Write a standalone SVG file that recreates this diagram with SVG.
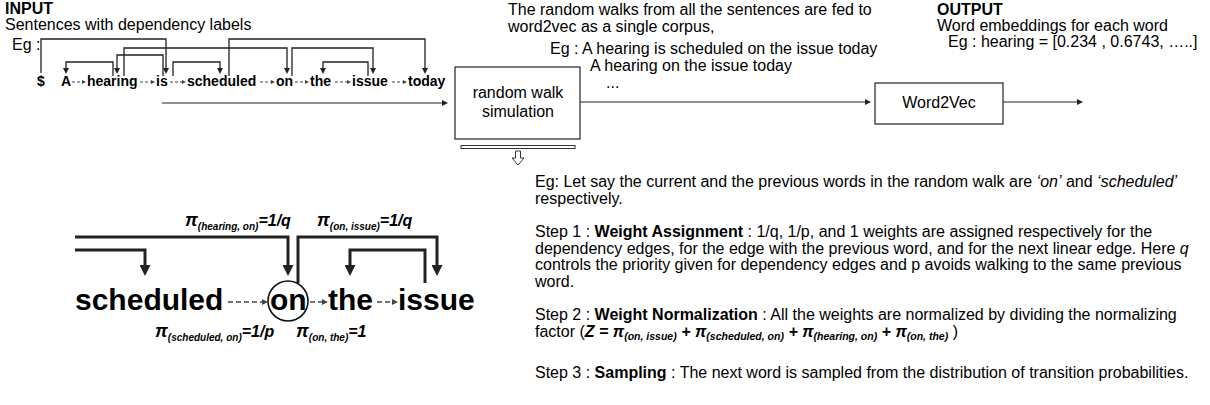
<svg xmlns="http://www.w3.org/2000/svg" width="1210" height="405" viewBox="0 0 1210 405">
<defs>
<style>
text{font-family:"Liberation Sans",Arial,sans-serif;fill:#000}
.t16{font-size:16px}
.b{font-weight:bold}
.w{font-size:14px;font-weight:bold}
.big{font-size:30px;font-weight:bold}
.arc{fill:none;stroke:#222;stroke-width:1.3}
.dash{fill:none;stroke:#444;stroke-width:1;stroke-dasharray:3 2}
.conn{fill:none;stroke:#222;stroke-width:1.2}
.thick{fill:none;stroke:#222;stroke-width:3}
.dashb{fill:none;stroke:#444;stroke-width:1.6;stroke-dasharray:5 3}
.box{fill:#fff;stroke:#222;stroke-width:1.2}
.pi{font-weight:bold;font-style:italic}
</style>
<marker id="a1" viewBox="0 0 10 10" refX="0" refY="5" markerWidth="7" markerHeight="6" orient="auto" markerUnits="userSpaceOnUse"><path d="M0,0L10,5L0,10z" fill="#222"/></marker>
<marker id="a2" viewBox="0 0 10 10" refX="0" refY="5" markerWidth="8" markerHeight="6" orient="auto" markerUnits="userSpaceOnUse"><path d="M0,0L10,5L0,10z" fill="#222"/></marker>
<marker id="as" viewBox="0 0 10 10" refX="0" refY="5" markerWidth="4" markerHeight="4" orient="auto" markerUnits="userSpaceOnUse"><path d="M0,0L10,5L0,10z" fill="#444"/></marker>
<marker id="asb" viewBox="0 0 10 10" refX="0" refY="5" markerWidth="6" markerHeight="6" orient="auto" markerUnits="userSpaceOnUse"><path d="M0,0L10,5L0,10z" fill="#444"/></marker>
<marker id="a3" viewBox="0 0 10 10" refX="0" refY="5" markerWidth="13" markerHeight="11" orient="auto" markerUnits="userSpaceOnUse"><path d="M0,0L10,5L0,10z" fill="#222"/></marker>
</defs>

<g id="input">
<text x="5" y="14" class="t16 b">INPUT</text>
<text x="5" y="30" class="t16">Sentences with dependency labels</text>
<text x="12" y="50" class="t16">Eg :</text>
</g>

<g id="sentence">
<text x="37" y="86" class="w">$</text>
<text x="61" y="86" class="w">A</text>
<text x="87" y="86" class="w">hearing</text>
<text x="156" y="86" class="w">is</text>
<text x="187" y="86" class="w">scheduled</text>
<text x="276" y="86" class="w">on</text>
<text x="310" y="86" class="w">the</text>
<text x="352" y="86" class="w">issue</text>
<text x="408" y="86" class="w">today</text>
</g>

<g id="random-walk">
<rect x="455" y="67" width="125" height="72" class="box"/>
<text x="518" y="98" class="t16" text-anchor="middle">random walk</text>
<text x="518" y="117" class="t16" text-anchor="middle">simulation</text>
</g>

<g id="corpus-text">
<text x="508" y="15" class="t16">The random walks from all the sentences are fed to</text>
<text x="508" y="32" class="t16">word2vec as a single corpus,</text>
<text x="550" y="54" class="t16">Eg : A hearing is scheduled on the issue today</text>
<text x="590" y="71" class="t16">A hearing on the issue today</text>
<text x="606" y="88" class="t16">...</text>
</g>

<g id="word2vec">
<rect x="875" y="83" width="128" height="41" class="box"/>
<text x="939" y="108" class="t16" text-anchor="middle">Word2Vec</text>
</g>

<g id="output">
<text x="937" y="15" class="t16 b">OUTPUT</text>
<text x="937" y="31" class="t16">Word embeddings for each word</text>
<text x="948" y="47" class="t16">Eg : hearing = [0.234 , 0.6743, …..]</text>
</g>

<g id="expand-arrow">
<rect x="461" y="145.5" width="114" height="3" fill="#fff" stroke="#333" stroke-width="1"/>
<path d="M515.5,151 H520.5 V158 H524 L518,165 L512,158 H515.5 Z" fill="#fff" stroke="#333" stroke-width="1"/>
</g>

<g id="connectors">
<path class="arc" d="M41,73 V39 H166 V68" marker-end="url(#a1)"/>
<path class="arc" d="M113,76 V62 H66 V68" marker-end="url(#a1)"/>
<path class="arc" d="M163,76 V55 H117 V68" marker-end="url(#a1)"/>
<path class="arc" d="M124,76 V48 H287 V68" marker-end="url(#a1)"/>
<path class="arc" d="M173,76 V62 H220 V68" marker-end="url(#a1)"/>
<path class="arc" d="M229,76 V39 H425 V68" marker-end="url(#a1)"/>
<path class="arc" d="M292,76 V48 H373 V68" marker-end="url(#a1)"/>
<path class="arc" d="M368,76 V62 H323 V68" marker-end="url(#a1)"/>
<path class="dash" d="M72,82 H82" marker-end="url(#as)"/>
<path class="dash" d="M140,82 H151" marker-end="url(#as)"/>
<path class="dash" d="M170,82 H182" marker-end="url(#as)"/>
<path class="dash" d="M260,82 H271" marker-end="url(#as)"/>
<path class="dash" d="M295,82 H305" marker-end="url(#as)"/>
<path class="dash" d="M335,82 H347" marker-end="url(#as)"/>
<path class="dash" d="M392,82 H403" marker-end="url(#as)"/>
<path class="conn" d="M162,103 H442" marker-end="url(#a2)"/>
<path class="conn" d="M580,102 H865" marker-end="url(#a2)"/>
<path class="conn" d="M1003,102 H1077" marker-end="url(#a2)"/>
</g>

<g id="detail-figure">
<text x="185" y="226" class="pi"><tspan font-size="18">π</tspan><tspan font-size="10" dy="4">(hearing, on)</tspan><tspan font-size="16" dy="-4">=1/q</tspan></text>
<text x="317" y="226" class="pi"><tspan font-size="18">π</tspan><tspan font-size="10" dy="4">(on, issue)</tspan><tspan font-size="16" dy="-4">=1/q</tspan></text>
<text x="75" y="310" class="big">scheduled</text>
<text x="270" y="310" class="big">on</text>
<text x="328" y="310" class="big">the</text>
<text x="398" y="310" class="big">issue</text>
<circle cx="288" cy="301" r="20" fill="none" stroke="#111" stroke-width="1.6"/>
<text x="155" y="337" class="pi"><tspan font-size="18">π</tspan><tspan font-size="10" dy="4">(scheduled, on)</tspan><tspan font-size="16" dy="-4">=1/p</tspan></text>
<text x="296" y="337" class="pi"><tspan font-size="18">π</tspan><tspan font-size="10" dy="4">(on, the)</tspan><tspan font-size="16" dy="-4">=1</tspan></text>
</g>

<g id="detail-connectors">
<path class="thick" d="M75,237 H288 V265" marker-end="url(#a3)"/>
<path class="thick" d="M75,250 H145 V265" marker-end="url(#a3)"/>
<path class="thick" d="M298,283 V237 H437 V265" marker-end="url(#a3)"/>
<path class="thick" d="M425,283 V250 H350 V265" marker-end="url(#a3)"/>
<path class="dashb" d="M228,302 H262" marker-end="url(#asb)"/>
<path class="dashb" d="M310,302 H322" marker-end="url(#asb)"/>
<path class="dashb" d="M377,302 H392" marker-end="url(#asb)"/>
</g>

<g id="explanation">
<text x="535" y="187" class="t16">Eg: Let say the current and the previous words in the random walk are <tspan font-style="italic">‘on’</tspan> and <tspan font-style="italic">‘scheduled’</tspan></text>
<text x="535" y="203.5" class="t16">respectively.</text>
<text x="535" y="237" class="t16">Step 1 : <tspan font-weight="bold">Weight Assignment</tspan> : 1/q, 1/p, and 1 weights are assigned respectively for the</text>
<text x="535" y="253.5" class="t16">dependency edges, for the edge with the previous word, and for the next linear edge. Here <tspan font-style="italic">q</tspan></text>
<text x="535" y="270" class="t16">controls the priority given for dependency edges and p avoids walking to the same previous</text>
<text x="535" y="286.5" class="t16">word.</text>
<text x="535" y="320" class="t16">Step 2 : <tspan font-weight="bold">Weight Normalization</tspan> : All the weights are normalized by dividing the normalizing</text>
<text x="535" y="336.5" class="t16">factor (<tspan class="pi">Z = π</tspan><tspan class="pi" font-size="10.5" dy="3">(on, issue)</tspan><tspan class="pi" dy="-3"> + π</tspan><tspan class="pi" font-size="10.5" dy="3">(scheduled, on)</tspan><tspan class="pi" dy="-3"> + π</tspan><tspan class="pi" font-size="10.5" dy="3">(hearing, on)</tspan><tspan class="pi" dy="-3"> + π</tspan><tspan class="pi" font-size="10.5" dy="3">(on, the)</tspan><tspan dy="-3"> )</tspan></text>
<text x="535" y="378" class="t16">Step 3 : <tspan font-weight="bold">Sampling</tspan> : The next word is sampled from the distribution of transition probabilities.</text>
</g>
</svg>
